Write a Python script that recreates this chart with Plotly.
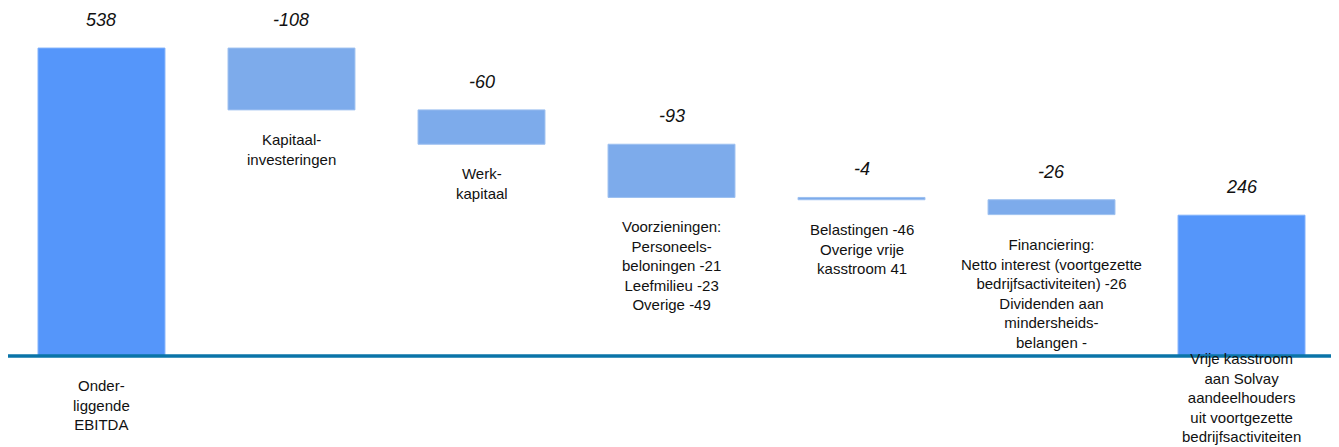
import plotly.graph_objects as go

# ---- data ----
categories = ["Onderliggende EBITDA", "Kapitaalinvesteringen", "Werkkapitaal",
              "Voorzieningen", "Belastingen en overige", "Financiering",
              "Vrije kasstroom"]
values = [538, -108, -60, -93, -4, -26, 246]
measures = ["absolute", "relative", "relative", "relative", "relative", "relative", "absolute"]
value_labels = ["538", "-108", "-60", "-93", "-4", "-26", "246"]
category_labels = [
    "Onder-<br>liggende<br>EBITDA",
    "Kapitaal-<br>investeringen",
    "Werk-<br>kapitaal",
    "Voorzieningen:<br>Personeels-<br>beloningen -21<br>Leefmilieu -23<br>Overige -49",
    "Belastingen -46<br>Overige vrije<br>kasstroom 41",
    "Financiering:<br>Netto interest (voortgezette<br>bedrijfsactiviteiten) -26<br>Dividenden aan<br>mindersheids-<br>belangen -",
    "Vrije kasstroom<br>aan Solvay<br>aandeelhouders<br>uit voortgezette<br>bedrijfsactiviteiten",
]

TOTAL_COLOR = "#5596FA"
DELTA_COLOR = "#7DABEB"
LINE_COLOR = "#0A74A8"
FONT = "Liberation Sans, Arial, sans-serif"

xs = list(range(len(categories)))

fig = go.Figure(go.Waterfall(
    x=xs,
    y=values,
    measure=measures,
    totals=dict(marker=dict(color=TOTAL_COLOR, line=dict(color="#7fb0fb", width=1))),
    decreasing=dict(marker=dict(color=DELTA_COLOR, line=dict(color="#9dc0f0", width=1))),
    increasing=dict(marker=dict(color=DELTA_COLOR)),
    connector=dict(visible=False),
    textinfo="none",
    hoverinfo="skip",
    width=[0.668] * len(xs),
))

# compute bar extents from data
annotations = []
running = 0
for i, (v, m) in enumerate(zip(values, measures)):
    if m == "absolute":
        start, end = 0, v
        running = v
    else:
        start, end = running, running + v
        running = end
    top, bottom = max(start, end), min(start, end)
    annotations.append(dict(
        x=xs[i], y=top, xref="x", yref="y", text=value_labels[i],
        showarrow=False, yanchor="bottom", yshift=16,
        font=dict(family=FONT, size=18, color="#111111", style="italic"),
    ))
    if i == len(values) - 1:
        annotations.append(dict(
            x=xs[i], y=0, xref="x", yref="paper", text=category_labels[i],
            showarrow=False, yanchor="bottom", yshift=0, align="center",
            font=dict(family=FONT, size=15, color="#111111"),
        ))
    else:
        annotations.append(dict(
            x=xs[i], y=bottom, xref="x", yref="y", text=category_labels[i],
            showarrow=False, yanchor="top", yshift=-19, align="center",
            font=dict(family=FONT, size=15, color="#111111"),
        ))

fig.add_shape(type="line", xref="paper", yref="y", x0=0, x1=1, y0=0, y1=0,
              line=dict(color=LINE_COLOR, width=3.5), layer="above")

fig.update_layout(
    width=1331, height=439,
    margin=dict(l=0, r=0, t=0, b=0),
    paper_bgcolor="white", plot_bgcolor="white",
    showlegend=False,
    xaxis=dict(visible=False, range=[-0.492, 6.513]),
    yaxis=dict(visible=False, range=[-159, 608]),
    annotations=annotations,
    font=dict(family=FONT),
)

fig.write_html("out.html")
